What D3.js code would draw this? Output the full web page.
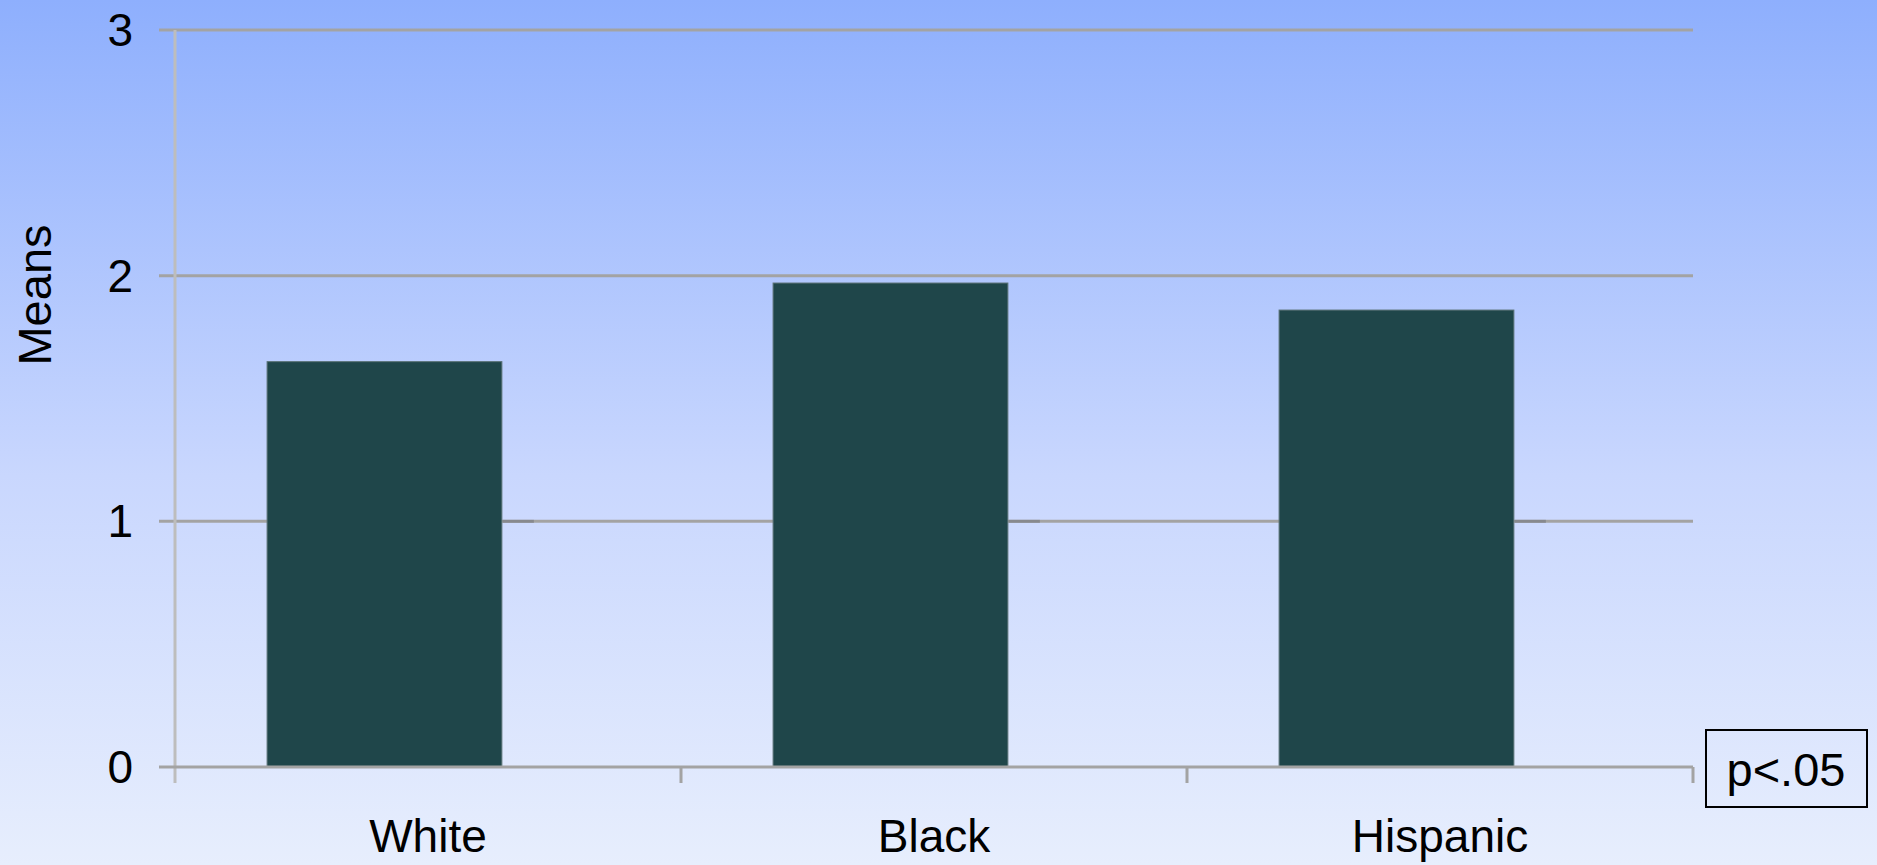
<!DOCTYPE html>
<html>
<head>
<meta charset="utf-8">
<script src="https://cdn.jsdelivr.net/npm/d3@7"></script>
<style>
    html, body { margin: 0; padding: 0; overflow: hidden; }
    svg { display: block; }
</style>
</head>
<body>
<svg id="chart"></svg>
<script>
const width = 1877;
const height = 865;

// data
const categories = ["White", "Black", "Hispanic"];
const means = [1.65, 1.97, 1.86];
const yTicks = [0, 1, 2, 3];
const note = "p<.05";

const fontFamily = "'Liberation Sans', Arial, sans-serif";

const svg = d3.select("#chart")
    .attr("width", width)
    .attr("height", height);

// background gradient
const defs = svg.append("defs");
const grad = defs.append("linearGradient")
    .attr("id", "bg")
    .attr("x1", 0).attr("y1", 0)
    .attr("x2", 0).attr("y2", 1);
grad.append("stop").attr("offset", "0%").attr("stop-color", "#8eaffd");
grad.append("stop").attr("offset", "55%").attr("stop-color", "#c9d7fe");
grad.append("stop").attr("offset", "100%").attr("stop-color", "#e7eefd");

svg.append("rect")
    .attr("width", width)
    .attr("height", height)
    .attr("fill", "url(#bg)");

const x = d3.scaleBand()
    .domain(categories)
    .range([175, 1693])
    .padding(0);

const y = d3.scaleLinear()
    .domain([0, 3])
    .range([767, 30]);

// horizontal gridlines (with short tick to the left)
svg.append("g")
    .selectAll("line")
    .data(yTicks.filter(d => d > 0))
    .enter().append("line")
    .attr("x1", 159)
    .attr("x2", 1693)
    .attr("y1", d => y(d))
    .attr("y2", d => y(d))
    .attr("stroke", "#a3a3a3")
    .attr("stroke-width", 3);

// y axis line
svg.append("line")
    .attr("x1", 175).attr("x2", 175)
    .attr("y1", y(3)).attr("y2", y(0) + 16)
    .attr("stroke", "#bdbdbd")
    .attr("stroke-width", 3);

// bars
const bw = x.bandwidth();
svg.append("g")
    .selectAll("rect")
    .data(categories)
    .enter().append("rect")
    .attr("x", d => x(d) + bw * 0.182)
    .attr("width", bw * 0.464)
    .attr("y", (d, i) => y(means[i]))
    .attr("height", (d, i) => y(0) - y(means[i]))
    .attr("fill", "#1f464a")
    .attr("stroke", "#5a7276")
    .attr("stroke-width", 1);

// faint shadow where the "1" gridline meets each bar's right edge
svg.append("g")
    .selectAll("line")
    .data(categories)
    .enter().append("line")
    .attr("x1", d => x(d) + bw * 0.646 + 1)
    .attr("x2", d => x(d) + bw * 0.646 + 32)
    .attr("y1", y(1)).attr("y2", y(1))
    .attr("stroke", "#7c7f86")
    .attr("stroke-width", 3)
    .attr("opacity", 0.7);

// baseline and category tick marks
svg.append("line")
    .attr("x1", 159).attr("x2", 1693)
    .attr("y1", y(0)).attr("y2", y(0))
    .attr("stroke", "#a3a3a3")
    .attr("stroke-width", 3);

const bounds = categories.map(c => x(c)).concat([x.range()[1]]);
svg.append("g")
    .selectAll("line")
    .data(bounds.slice(1))
    .enter().append("line")
    .attr("x1", d => d).attr("x2", d => d)
    .attr("y1", y(0)).attr("y2", y(0) + 16)
    .attr("stroke", "#a3a3a3")
    .attr("stroke-width", 3);

// y tick labels
svg.append("g")
    .selectAll("text")
    .data(yTicks)
    .enter().append("text")
    .attr("x", 133)
    .attr("y", d => y(d))
    .attr("dy", "0.35em")
    .attr("text-anchor", "end")
    .attr("font-family", fontFamily)
    .attr("font-size", "46px")
    .attr("fill", "#000")
    .text(d => d);

// category labels
svg.append("g")
    .selectAll("text")
    .data(categories)
    .enter().append("text")
    .attr("x", d => x(d) + bw / 2)
    .attr("y", 852)
    .attr("text-anchor", "middle")
    .attr("font-family", fontFamily)
    .attr("font-size", "46px")
    .attr("fill", "#000")
    .text(d => d);

// y axis title
svg.append("text")
    .attr("transform", "translate(51,295) rotate(-90)")
    .attr("text-anchor", "middle")
    .attr("font-family", fontFamily)
    .attr("font-size", "47px")
    .attr("fill", "#000")
    .text("Means");

// significance note box
const noteG = svg.append("g");
noteG.append("rect")
    .attr("x", 1706).attr("y", 730)
    .attr("width", 161).attr("height", 77)
    .attr("fill", "none")
    .attr("stroke", "#000")
    .attr("stroke-width", 2);
noteG.append("text")
    .attr("x", 1786)
    .attr("y", 786)
    .attr("text-anchor", "middle")
    .attr("font-family", fontFamily)
    .attr("font-size", "47px")
    .attr("fill", "#000")
    .text(note);
</script>
</body>
</html>
